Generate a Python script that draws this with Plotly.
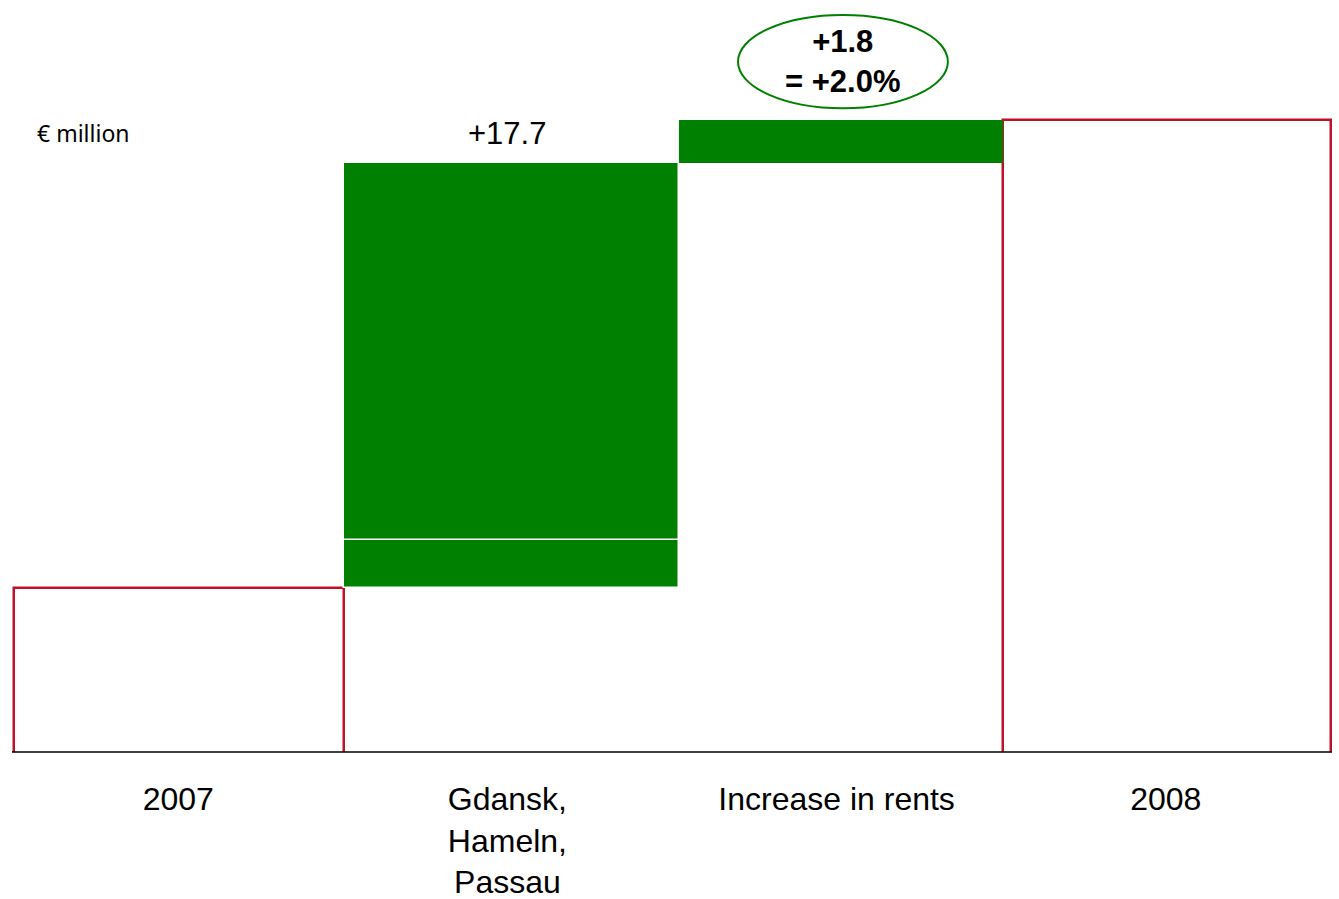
import plotly.graph_objects as go

# Revenue bridge 2007 -> 2008, € million
categories = ["2007", "Gdansk,<br>Hameln,<br>Passau", "Increase in rents", "2008"]
start_total = 95.8
acquisition_parts = [2.0, 15.7]      # stacked segments of the acquisitions step
acquisition_label = "+17.7"
rent_increase = 1.8
rent_pct_label = "+1.8<br>= +2.0%"
end_total = 115.3

FONT = "Liberation Sans, Arial, sans-serif"
GREEN = "#008000"
RED = "#c0102a"

# bar geometry per category (offset from category centre, width), in category units
GEOM = {
    0: (-0.500, 1.003),
    1: (-0.497, 1.018),
    2: (-0.479, 0.985),
    3: (-0.494, 0.997),
}

fig = go.Figure()

# Start and end totals: white bars with red outline
for i, val in [(0, start_total), (3, end_total)]:
    off, w = GEOM[i]
    fig.add_trace(go.Bar(
        x=[categories[i]], y=[val], offset=off, width=w,
        marker=dict(color="white", line=dict(color=RED, width=2.5)),
        hoverinfo="x+y",
    ))

# Acquisitions: two stacked green segments starting at the 2007 level
base = start_total
off, w = GEOM[1]
for part in acquisition_parts:
    fig.add_trace(go.Bar(
        x=[categories[1]], y=[part], base=[base], offset=off, width=w,
        marker=dict(color=GREEN, line=dict(color="white", width=1.5)),
        hoverinfo="y",
    ))
    base += part
acq_top = base

# Rent increase on top of the acquisitions step
off, w = GEOM[2]
fig.add_trace(go.Bar(
    x=[categories[2]], y=[rent_increase], base=[acq_top], offset=off, width=w,
    marker=dict(color=GREEN, line=dict(width=0)),
    hoverinfo="y",
))

# Value labels above the bars
for x, y, txt in [
    (categories[0], start_total, f"{start_total:.1f}"),
    (categories[1], acq_top, acquisition_label),
    (categories[3], end_total, f"{end_total:.1f}"),
]:
    fig.add_annotation(x=x, y=y, text=txt, showarrow=False, yanchor="middle",
                       yshift=30, font=dict(family=FONT, size=31, color="black"))

# Highlighted rent increase in an ellipse
fig.add_shape(type="circle", xref="paper", yref="paper",
              x0=0.550, x1=0.709, y0=0.856, y1=0.980,
              line=dict(color=GREEN, width=2), fillcolor="rgba(0,0,0,0)")
fig.add_annotation(xref="paper", yref="paper", x=0.6295, y=0.918,
                   xanchor="center", yanchor="middle",
                   text=f"<b>{rent_pct_label}</b>", showarrow=False,
                   font=dict(family=FONT, size=31, color="black"))

# Unit label
fig.add_annotation(xref="paper", yref="paper", x=0.0175, y=0.823,
                   xanchor="left", yanchor="middle",
                   text="€ million", showarrow=False,
                   font=dict(family="Noto Sans, DejaVu Sans, sans-serif", size=23, color="black"))

# Baseline
fig.add_shape(type="line", xref="paper", yref="paper", x0=0, x1=1, y0=0, y1=0,
              line=dict(color="black", width=1.5))

fig.update_layout(
    width=1339, height=899,
    margin=dict(l=12, r=7, t=0, b=147),
    barmode="overlay", bargap=0,
    showlegend=False,
    plot_bgcolor="white", paper_bgcolor="white",
    xaxis=dict(type="category", categoryorder="array", categoryarray=categories,
               range=[-0.505, 3.505], showgrid=False, zeroline=False, showline=False,
               ticks="", tickfont=dict(family=FONT, size=32, color="black"),
               ticklabelstandoff=25),
    yaxis=dict(range=[88.97, 120.3], visible=False, showgrid=False, zeroline=False),
)

fig.write_html("out.html")
